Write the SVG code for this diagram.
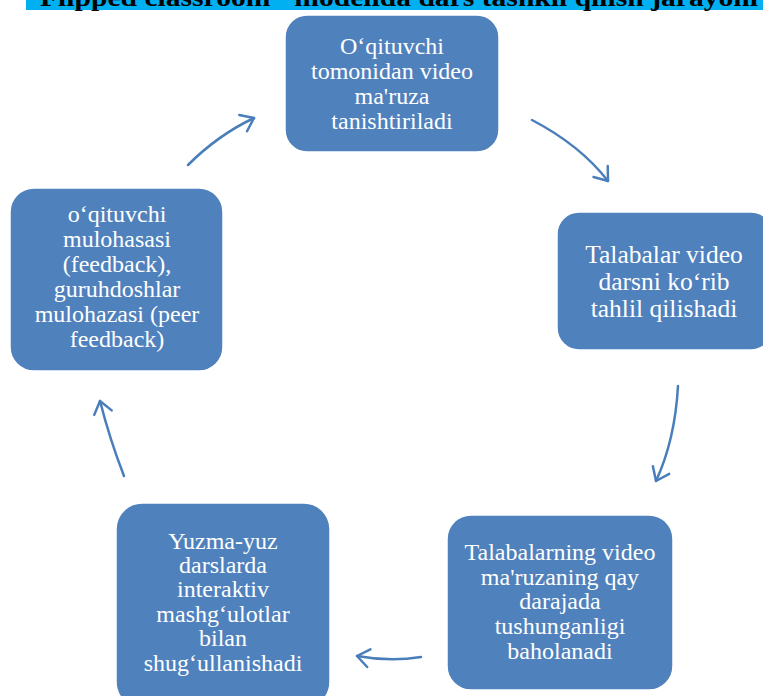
<svg xmlns="http://www.w3.org/2000/svg" width="763" height="696" viewBox="0 0 763 696">
<style>
.box{fill:#4F81BD;stroke:#ffffff;stroke-width:1.5}
.t{font-family:"Liberation Serif","Times New Roman",serif;font-size:24px;fill:#ffffff;text-anchor:middle}
.big{font-size:25.5px}
.title{font-family:"Liberation Serif","Times New Roman",serif;font-size:25px;font-weight:bold;fill:#000}
.arr{fill:none;stroke:#4A7EBB;stroke-width:2.5;stroke-linecap:round;marker-end:url(#ah)}
</style>
<defs>
<marker id="ah" markerUnits="userSpaceOnUse" markerWidth="30" markerHeight="30" refX="15" refY="15" orient="auto">
<path d="M3,6 L15,15 L3,24" fill="none" stroke="#4A7EBB" stroke-width="2.5" stroke-linecap="round" stroke-linejoin="round"/>
</marker>
</defs>
<rect width="763" height="696" fill="#ffffff"/>
<g id="title">
<rect x="26" y="0" width="737" height="10" fill="#00B0F0"/>
<text class="title" x="40" y="6" textLength="718" lengthAdjust="spacingAndGlyphs">Flipped classroom" modelida dars tashkil qilish jarayoni</text>
</g>
<g id="connectors">
<path class="arr" d="M188,165 Q218,135 254,118"/>
<path class="arr" d="M532,120 Q580,145 608,181"/>
<path class="arr" d="M678,386 Q675,440 656,481"/>
<path class="arr" d="M421,657 Q390,662 357,656"/>
<path class="arr" d="M124,476 Q110,440 100,401"/>
</g>
<g id="n1">
<rect class="box" x="285" y="15" width="214" height="137" rx="22"/>
<text class="t"><tspan x="392" y="54">O‘qituvchi</tspan><tspan x="392" y="79">tomonidan video</tspan><tspan x="392" y="104">ma'ruza</tspan><tspan x="392" y="129">tanishtiriladi</tspan></text>
</g>
<g id="n2">
<rect class="box" x="557" y="212" width="216" height="138" rx="22"/>
<text class="t big"><tspan x="664" y="263">Talabalar video</tspan><tspan x="664" y="290">darsni ko‘rib</tspan><tspan x="664" y="317">tahlil qilishadi</tspan></text>
</g>
<g id="n3">
<rect class="box" x="447" y="515" width="226" height="175" rx="24"/>
<text class="t"><tspan x="560" y="560">Talabalarning video</tspan><tspan x="560" y="585">ma'ruzaning qay</tspan><tspan x="560" y="609">darajada</tspan><tspan x="560" y="634">tushunganligi</tspan><tspan x="560" y="659">baholanadi</tspan></text>
</g>
<g id="n4">
<rect class="box" x="116" y="503" width="214" height="205" rx="26"/>
<text class="t"><tspan x="223" y="549">Yuzma-yuz</tspan><tspan x="223" y="573">darslarda</tspan><tspan x="223" y="597">interaktiv</tspan><tspan x="223" y="622">mashg‘ulotlar</tspan><tspan x="223" y="646">bilan</tspan><tspan x="223" y="671">shug‘ullanishadi</tspan></text>
</g>
<g id="n5">
<rect class="box" x="10" y="188" width="213" height="183" rx="24"/>
<text class="t"><tspan x="117" y="222">o‘qituvchi</tspan><tspan x="117" y="247">mulohasasi</tspan><tspan x="117" y="272">(feedback),</tspan><tspan x="117" y="297">guruhdoshlar</tspan><tspan x="117" y="322">mulohazasi (peer</tspan><tspan x="117" y="347">feedback)</tspan></text>
</g>
</svg>
